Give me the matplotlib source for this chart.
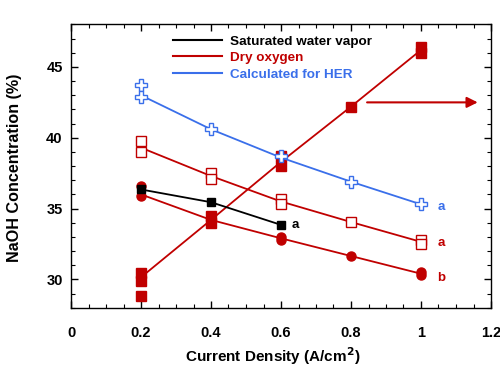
import matplotlib
matplotlib.use('Agg')
import matplotlib.pyplot as plt
from matplotlib.lines import Line2D
import numpy as np

plt.rcParams['font.family'] = ['Liberation Sans', 'DejaVu Sans']
plt.rcParams['font.weight'] = 'bold'
plt.rcParams['axes.labelweight'] = 'bold'

RED = '#C00000'
BLUE = '#3A6FEA'

# current density points where the trend lines are drawn
xs = [0.2, 0.4, 0.6, 0.8, 1.0]

# calculated for HER (open crosses)
her_x = [0.2, 0.2, 0.4, 0.6, 0.8, 1.0]
her_y = [43.7, 42.9, 40.6, 38.7, 36.9, 35.3]
her_line = [43.0, 40.6, 38.6, 36.9, 35.3]

# dry oxygen, curve a (open squares)
dra_x = [0.2, 0.2, 0.4, 0.4, 0.6, 0.6, 0.8, 1.0, 1.0]
dra_y = [39.8, 39.0, 37.5, 37.1, 35.7, 35.3, 34.05, 32.8, 32.5]
dra_line = [39.3, 37.3, 35.5, 34.05, 32.65]

# dry oxygen, curve b (filled circles)
drb_x = [0.2, 0.2, 0.4, 0.6, 0.6, 0.8, 1.0, 1.0]
drb_y = [36.6, 35.9, 34.2, 33.0, 32.8, 31.65, 30.55, 30.3]
drb_line = [36.0, 34.2, 32.9, 31.65, 30.4]

# dry oxygen, rising curve (big filled squares)
dri_x = [0.2, 0.2, 0.2, 0.4, 0.4, 0.6, 0.6, 0.8, 1.0, 1.0]
dri_y = [30.45, 29.9, 28.8, 34.5, 33.95, 38.7, 38.0, 42.2, 46.4, 46.0]
dri_line = [30.15, 34.2, 38.3, 42.2, 46.2]

# saturated water vapor (black squares)
sat_x = [0.2, 0.4, 0.6]
sat_y = [36.35, 35.45, 33.85]

fig = plt.figure(figsize=(5, 3.71), dpi=100)
ax = fig.add_axes([0.142, 0.1706, 0.84, 0.7634])

ax.plot(xs, dri_line, color=RED, lw=1.3)
ax.plot(dri_x, dri_y, 's', color=RED, ms=7.5, ls='none')

ax.plot(xs, dra_line, color=RED, lw=1.3)
ax.plot(dra_x, dra_y, 's', mfc='white', mec=RED, mew=1.0, ms=7, ls='none')

ax.plot(xs, drb_line, color=RED, lw=1.3)
ax.plot(drb_x, drb_y, 'o', color=RED, ms=6.5, ls='none')

ax.plot(sat_x, sat_y, color='black', lw=1.3)
ax.plot(sat_x, sat_y, 's', color='black', ms=5.5, ls='none')

ax.plot(xs, her_line, color=BLUE, lw=1.3)
ax.plot(her_x, her_y, 'P', mfc='white', mec=BLUE, mew=1.0, ms=8, ls='none')

ax.annotate('', xy=(1.17, 42.5), xytext=(0.838, 42.5),
            arrowprops=dict(arrowstyle='-|>', color=RED, lw=1.5, mutation_scale=16))

ax.text(1.057, 35.1, 'a', color=BLUE, fontsize=9.5, va='center', ha='center')
ax.text(1.057, 32.58, 'a', color=RED, fontsize=9.5, va='center', ha='center')
ax.text(1.057, 30.1, 'b', color=RED, fontsize=9.5, va='center', ha='center')
ax.text(0.64, 33.87, 'a', color='black', fontsize=9.5, va='center', ha='center')

handles = [Line2D([], [], color='black', lw=1.5),
           Line2D([], [], color=RED, lw=1.5),
           Line2D([], [], color=BLUE, lw=1.5)]
labels = ['Saturated water vapor', 'Dry oxygen', 'Calculated for HER']
leg = ax.legend(handles, labels, loc='upper left', bbox_to_anchor=(0.243, 0.962),
                frameon=False, fontsize=9.7, handlelength=3.6, handletextpad=0.65,
                labelspacing=0.3, borderpad=0, borderaxespad=0)
for t, c in zip(leg.get_texts(), ['black', RED, BLUE]):
    t.set_color(c)

ax.set_xlim(0, 1.2)
ax.set_ylim(28, 48)
ax.set_xticks([0, 0.2, 0.4, 0.6, 0.8, 1.0, 1.2])
ax.set_xticklabels(['0', '0.2', '0.4', '0.6', '0.8', '1', '1.2'])
ax.set_yticks([30, 35, 40, 45])
ax.set_xticks(np.arange(0, 1.2001, 0.05), minor=True)
ax.set_yticks(np.arange(28, 48.01, 1), minor=True)
ax.tick_params(which='both', direction='in', top=True, right=True, labelsize=10.5)
ax.tick_params(which='major', length=5, width=1)
ax.tick_params(which='minor', length=3, width=0.8)
ax.tick_params(axis='x', which='major', pad=13)
ax.tick_params(axis='y', which='major', pad=6)
for s in ax.spines.values():
    s.set_linewidth(1.0)

ax.set_xlabel('Current Density (A/cm$^\\mathbf{2}$)', fontsize=11)
ax.set_ylabel('NaOH Concentration (%)', fontsize=11.6)
ax.xaxis.set_label_coords(0.481, -0.132)
ax.yaxis.set_label_coords(-0.117, 0.493)

fig.savefig('out.png', dpi=100)
